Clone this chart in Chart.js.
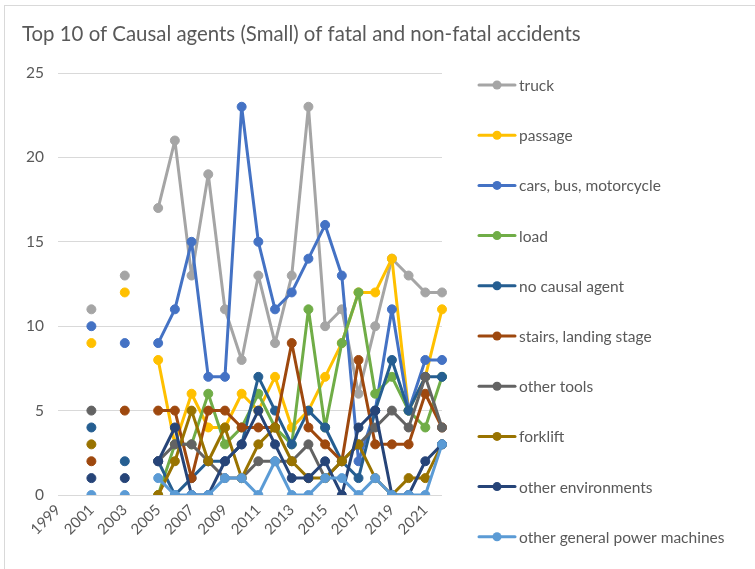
<!DOCTYPE html>
<html>
<head>
<meta charset="utf-8">
<script src="https://cdn.jsdelivr.net/npm/chart.js@4.4.1/dist/chart.umd.min.js"></script>
<style>
  html, body { margin: 0; padding: 0; background: #fff; }
  #wrap { position: relative; width: 755px; height: 569px; }
</style>
</head>
<body>
<div id="wrap"><canvas id="chart" width="755" height="569"></canvas></div>
<script>
// Top 10 causal agents (small) — fatal + non-fatal accidents per year
const years = ['1999','2000','2001','2002','2003','2004','2005','2006','2007','2008','2009','2010',
  '2011','2012','2013','2014','2015','2016','2017','2018','2019','2020','2021','2022'];

const truck      = [null,null,11,null,13,null,17,21,13,19,11, 8,13, 9,13,23,10,11, 6,10,14,13,12,12];
const passage    = [null,null, 9,null,12,null, 8, 3, 6, 4, 4, 6, 5, 7, 4, 5, 7, 9,12,12,14, 5, 7,11];
const cars       = [null,null,10,null, 9,null, 9,11,15, 7, 7,23,15,11,12,14,16,13, 2, 5,11, 5, 8, 8];
const load       = [null,null,null,null,null,null, 0, 3, 3, 6, 3, 4, 6, 4, 3,11, 4, 9,12, 6, 7, 5, 4, 7];
const noCausal   = [null,null, 4,null, 2,null, 2, 0, 1, 2, 2, 3, 7, 5, 3, 5, 4, 2, 1, 5, 8, 5, 7, 7];
const stairs     = [null,null, 2,null, 5,null, 5, 5, 1, 5, 5, 4, 4, 4, 9, 4, 3, 2, 8, 3, 3, 3, 6, 4];
const otherTools = [null,null, 5,null,null,null, 2, 3, 3, 2, 1, 1, 2, 2, 2, 3, 1, 2, 3, 4, 5, 4, 7, 4];
const forklift   = [null,null, 3,null,null,null, 0, 2, 5, 2, 4, 1, 3, 4, 2, 1, 1, 2, 3, 1, 0, 1, 1, 3];
const otherEnv   = [null,null, 1,null, 1,null, 2, 4, 0, 0, 2, 3, 5, 3, 1, 1, 2, 0, 4, 5, 0, 0, 2, 3];
const otherPower = [null,null, 0,null, 0,null, 1, 0, 0, 0, 1, 1, 0, 2, 0, 0, 1, 1, 0, 1, 0, 0, 0, 3];

const seriesNames = ['truck','passage','cars, bus, motorcycle','load','no causal agent',
  'stairs, landing stage','other tools','forklift','other environments','other general power machines'];
const seriesData = [truck, passage, cars, load, noCausal, stairs, otherTools, forklift, otherEnv, otherPower];
const seriesColors = ['#A5A5A5','#FFC000','#4472C4','#70AD47','#255E91',
  '#9E480E','#636363','#997300','#264478','#5B9BD5'];

const yTicks = [0, 5, 10, 15, 20, 25];

const FONT = 'Lato, "Open Sans", sans-serif';
const TXT = '#595959';

// frame, title and legend are drawn by hand (Excel style)
const decorPlugin = {
  id: 'decor',
  beforeDraw(chart) {
    const ctx = chart.ctx;
    ctx.save();
    ctx.strokeStyle = '#d9d9d9';
    ctx.lineWidth = 1;
    ctx.strokeRect(4.5, 5.5, 800, 600);
    ctx.restore();
  },
  afterDraw(chart) {
    const ctx = chart.ctx;
    ctx.save();
    ctx.fillStyle = TXT;
    ctx.font = '20.4px ' + FONT;
    ctx.textBaseline = 'middle';
    ctx.textAlign = 'left';
    ctx.fillText('Top 10 of Causal agents (Small) of fatal and non-fatal accidents', 22, 34);

    ctx.font = '15.5px ' + FONT;
    chart.data.datasets.forEach((ds, i) => {
      const y = 85 + i * 50.2;
      ctx.strokeStyle = ds.borderColor;
      ctx.lineWidth = 3;
      ctx.lineCap = 'round';
      ctx.beginPath();
      ctx.moveTo(479, y);
      ctx.lineTo(515, y);
      ctx.stroke();
      ctx.fillStyle = ds.borderColor;
      ctx.beginPath();
      ctx.arc(497, y, 4.5, 0, Math.PI * 2);
      ctx.fill();
      ctx.fillStyle = TXT;
      ctx.fillText(ds.label, 519, y + 1);
    });
    ctx.restore();
  }
};

new Chart(document.getElementById('chart'), {
  type: 'line',
  plugins: [decorPlugin],
  data: {
    labels: years,
    datasets: seriesNames.map((name, i) => ({
      label: name,
      data: seriesData[i],
      borderColor: seriesColors[i],
      backgroundColor: seriesColors[i],
      pointBackgroundColor: seriesColors[i],
      pointBorderColor: seriesColors[i],
      borderWidth: 3,
      borderJoinStyle: 'round',
      borderCapStyle: 'round',
      pointRadius: 4.5,
      pointBorderWidth: 1,
      spanGaps: false,
      tension: 0,
      order: 10 - i
    }))
  },
  options: {
    responsive: false,
    animation: false,
    layout: { padding: { left: 0, top: 73, right: 313, bottom: 0 } },
    plugins: {
      legend: { display: false },
      title: { display: false },
      tooltip: { enabled: false }
    },
    scales: {
      x: {
        grid: { display: false, drawTicks: false },
        border: { display: false },
        afterFit: (s) => { s.height = 74; },
        ticks: {
          autoSkip: false,
          minRotation: 45,
          maxRotation: 45,
          padding: 6,
          color: TXT,
          font: { family: FONT, size: 15 },
          callback: (v, i) => (i % 2 === 0 ? years[i] : '')
        }
      },
      y: {
        min: 0,
        max: 25,
        afterFit: (s) => { s.width = 58; },
        afterBuildTicks: (s) => { s.ticks = yTicks.map(v => ({ value: v })); },
        grid: { color: '#d9d9d9', lineWidth: 1, drawTicks: false },
        border: { display: false },
        ticks: {
          padding: 14,
          color: TXT,
          font: { family: FONT, size: 15.5 }
        }
      }
    }
  }
});
</script>
</body>
</html>
